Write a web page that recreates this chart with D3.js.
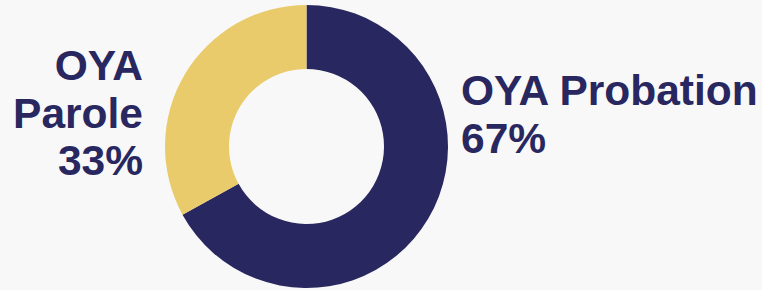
<!DOCTYPE html>
<html>
<head>
<script src="https://cdn.jsdelivr.net/npm/d3@7"></script>
<style>
  body { margin: 0; background: #f8f8f8; }
</style>
</head>
<body>
<script>

// data
var categories = ["OYA Probation", "OYA Parole"],
    shares = [67, 33],
    labelLines = [["OYA Probation", "67%"], ["OYA", "Parole", "33%"]];

var colors = ["#29275f", "#eacb6c"];

var width = 762,
    height = 290,
    cx = 306.5,
    cy = 146.5,
    outerR = 141.5,
    innerR = 77.5;

var svg = d3.select("body").append("svg")
            .attr("width", width)
            .attr("height", height)
            .style("background", "#f8f8f8");

var pie = d3.pie().sort(null).value(function (d) { return d; });
var arc = d3.arc().innerRadius(innerR).outerRadius(outerR);

var g = svg.append("g").attr("transform", "translate(" + cx + "," + cy + ")");

g.selectAll("path")
 .data(pie(shares))
 .enter()
 .append("path")
 .attr("d", arc)
 .attr("fill", function (d, i) { return colors[i]; });

// labels
var labelPos = [
  {x: 461, y: 105, anchor: "start"},
  {x: 143, y: 80, anchor: "end"}
];

labelLines.forEach(function (lines, i) {
  var t = svg.append("text")
             .attr("x", labelPos[i].x)
             .attr("y", labelPos[i].y)
             .attr("text-anchor", labelPos[i].anchor)
             .style("font", "bold 42.5px 'Liberation Sans', Arial, sans-serif")
             .style("fill", colors[0]);
  lines.forEach(function (s, j) {
    t.append("tspan")
     .attr("x", labelPos[i].x)
     .attr("dy", j == 0 ? 0 : 47.5)
     .text(s);
  });
});

</script>
</body>
</html>
